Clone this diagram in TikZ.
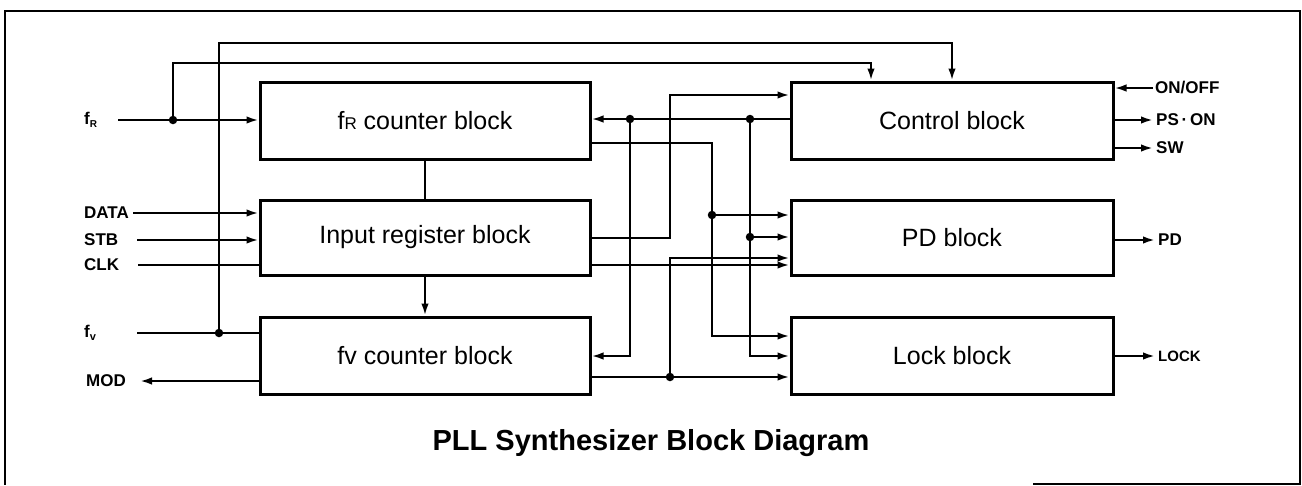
\documentclass[tikz,border=0pt]{standalone}
\usepackage{fontspec}
\setmainfont{Liberation Sans}
\usetikzlibrary{arrows.meta}
\begin{document}
\begin{tikzpicture}[x=1pt,y=-1pt,
  blockbox/.style={draw, line width=3pt, minimum height=77pt, inner sep=0pt,
    font=\fontsize{25}{25}\selectfont},
  leftbox/.style={blockbox, minimum width=330pt},
  rightbox/.style={blockbox, minimum width=322pt},
  wire/.style={line width=2.2pt},
  arr/.style={wire, -{Latex[length=12pt,width=7.5pt]}},
  lbl/.style={font=\bfseries\fontsize{17}{17}\selectfont, inner sep=0pt, anchor=west},
  dot/.style={circle, fill, inner sep=0pt, minimum size=8.5pt},
  frame/.style={line width=1.6pt}]
\useasboundingbox (0,0) rectangle (1302,485);
% frame
\draw[frame] (1033,484) -- (1300,484) -- (1300,11) -- (5,11) -- (5,485);
% blocks
\node[leftbox] (fR) at (425,120.5) {f{\fontsize{17}{17}\selectfont R} counter block};
\node[leftbox, minimum height=75pt] (reg) at (425,237.5) {Input register block};
\node[leftbox] (fv) at (425,355.5) {fv counter block};
\node[rightbox] (ctrl) at (952,120.5) {Control block};
\node[rightbox, minimum height=75pt] (pd) at (952,237.5) {PD block};
\node[rightbox] (lock) at (952,355.5) {Lock block};
% left labels
\node[lbl] (lfR) at (84,120) {f\raisebox{-3pt}{\fontsize{10}{10}\selectfont R}};
\node[lbl] (lDATA) at (84,213) {DATA};
\node[lbl] (lSTB) at (84,240) {STB};
\node[lbl] (lCLK) at (84,265) {CLK};
\node[lbl] (lfv) at (84,333) {f\raisebox{-3pt}{\fontsize{11}{11}\selectfont v}};
\node[lbl] (lMOD) at (86,381) {MOD};
% right labels
\node[lbl] (lON) at (1155,88) {ON/OFF};
\node[lbl] (lPS) at (1156,120) {PS\,·\,ON};
\node[lbl] (lSW) at (1156,148) {SW};
\node[lbl] (lPD) at (1158,240) {PD};
\node[lbl, font=\bfseries\fontsize{15}{15}\selectfont] (lLOCK) at (1158,356) {LOCK};
% coordinates
\coordinate (inFR) at (118,120);
\coordinate (jFR) at (173,120);
\coordinate (inDATA) at (133,213);
\coordinate (inSTB) at (137,240);
\coordinate (inCLK) at (138,265);
\coordinate (inFV) at (137,333);
\coordinate (jFV) at (219,333);
\coordinate (outMOD) at (140,381);
\coordinate (tA) at (871,63);
\coordinate (tB) at (952,43);
\coordinate (j1) at (630,119);
\coordinate (j2) at (750,119);
\coordinate (c1) at (630,356);
\coordinate (c2) at (750,356);
\coordinate (j2b) at (750,237);
\coordinate (c3) at (712,143);
\coordinate (c4) at (712,336);
\coordinate (j3) at (712,215);
\coordinate (c5) at (670,238);
\coordinate (c6) at (670,95);
\coordinate (j4) at (670,377);
\coordinate (c7) at (670,258);
\coordinate (oON) at (1153,88);
\coordinate (oPS) at (1153,120);
\coordinate (oSW) at (1153,148);
\coordinate (oPD) at (1155,240);
\coordinate (oLOCK) at (1155,356);
% left inputs
\draw[arr] (inFR) -- (fR.west |- inFR);
\draw[arr] (jFR) |- (tA) -- (ctrl.north -| tA);
\draw[arr] (jFV) |- (tB) -- (ctrl.north -| tB);
\draw[wire] (inFV) -- (fv.west |- inFV);
\draw[arr] (inDATA) -- (reg.west |- inDATA);
\draw[arr] (inSTB) -- (reg.west |- inSTB);
\draw[wire] (inCLK) -- (reg.west |- inCLK);
\draw[arr] (fv.west |- outMOD) -- (outMOD);
% vertical between left blocks
\draw[wire] (fR.south) -- (reg.north);
\draw[arr] (reg.south) -- (fv.north);
% middle wiring
\draw[arr] (ctrl.west |- j1) -- (fR.east |- j1);
\draw[arr] (j1) -- (c1) -- (fv.east |- c1);
\draw[arr] (j2) -- (c2) -- (lock.west |- c2);
\draw[arr] (j2b) -- (pd.west |- j2b);
\draw[arr] (fR.east |- c3) -- (c3) -- (c4) -- (lock.west |- c4);
\draw[arr] (j3) -- (pd.west |- j3);
\draw[arr] (reg.east |- c5) -- (c5) -- (c6) -- (ctrl.west |- c6);
\draw[arr] (fv.east |- j4) -- (lock.west |- j4);
\draw[arr] (j4) -- (c7) -- (pd.west |- c7);
\draw[arr] (reg.east |- inCLK) -- (pd.west |- inCLK);
% right outputs
\draw[arr] (oON) -- (ctrl.east |- oON);
\draw[arr] (ctrl.east |- oPS) -- (oPS);
\draw[arr] (ctrl.east |- oSW) -- (oSW);
\draw[arr] (pd.east |- oPD) -- (oPD);
\draw[arr] (lock.east |- oLOCK) -- (oLOCK);
% dots
\node[dot] (dFR) at (jFR) {};
\node[dot] (dFV) at (jFV) {};
\node[dot] (d1) at (j1) {};
\node[dot] (d2) at (j2) {};
\node[dot] (d2b) at (j2b) {};
\node[dot] (d3) at (j3) {};
\node[dot] (d4) at (j4) {};
% title
\node[font=\bfseries\fontsize{29}{29}\selectfont] (title) at (651,443) {PLL Synthesizer Block Diagram};
\end{tikzpicture}
\end{document}
